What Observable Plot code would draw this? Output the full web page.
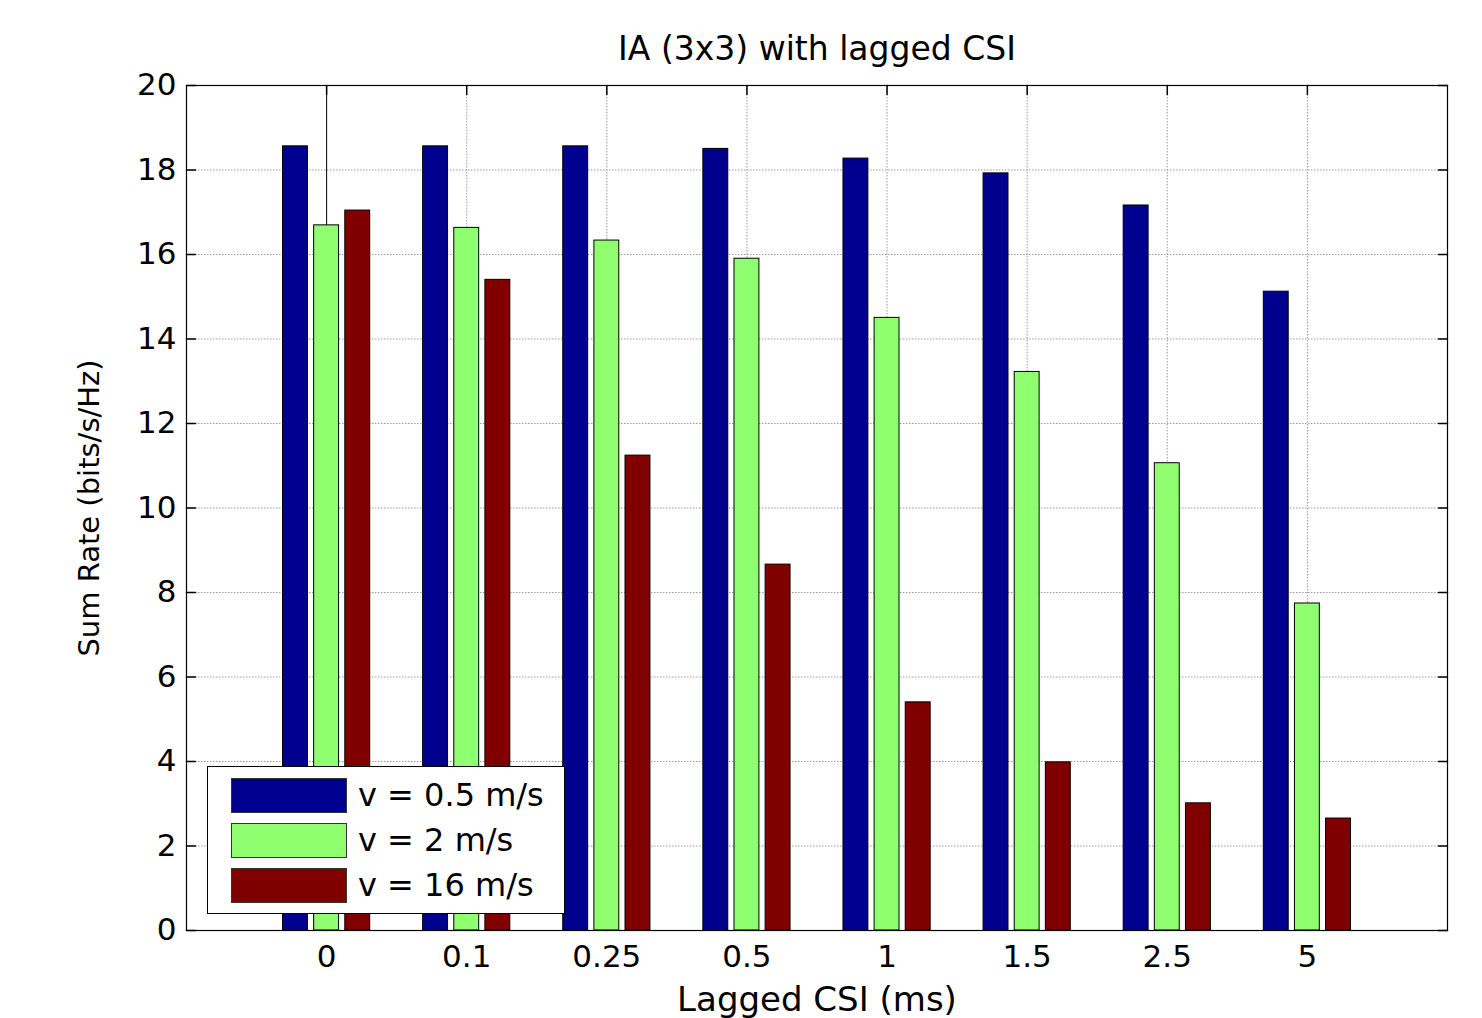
<!DOCTYPE html>
<html>
<head>
<meta charset="utf-8">
<script src="https://cdn.jsdelivr.net/npm/d3@7"></script>
<script src="https://cdn.jsdelivr.net/npm/@observablehq/plot@0.6"></script>
<style>
  html, body { margin: 0; padding: 0; background: white; }
  #wrap { position: relative; width: 1482px; height: 1018px; font-family: "DejaVu Sans", sans-serif; }
  #legend { position: absolute; left: 207px; top: 766px; width: 356px; height: 146px; border: 1px solid black; background: white; box-sizing: content-box; }
  .row { position: absolute; left: 23px; display: flex; align-items: center; }
  .sw { width: 114px; height: 33px; border: 1px solid #333; }
  .lab { margin-left: 11px; font-size: 32px; white-space: nowrap; }
</style>
</head>
<body>
<div id="wrap"></div>
<script>
const categories = ["0", "0.1", "0.25", "0.5", "1", "1.5", "2.5", "5"];
const seriesNames = ["v = 0.5 m/s", "v = 2 m/s", "v = 16 m/s"];
const v05 = [18.56, 18.56, 18.56, 18.5, 18.27, 17.92, 17.16, 15.12];
const v2  = [16.69, 16.63, 16.33, 15.9, 14.5, 13.22, 11.06, 7.74];
const v16 = [17.04, 15.4, 11.24, 8.66, 5.4, 3.98, 3.01, 2.65];
const seriesColors = ["#00008F", "#8FFF70", "#800000"];
const yTicks = [0, 2, 4, 6, 8, 10, 12, 14, 16, 18, 20];
const title = "IA (3x3) with lagged CSI";
const xLabel = "Lagged CSI (ms)";
const yLabel = "Sum Rate (bits/s/Hz)";

// MATLAB grouped bar geometry
const nSeries = 3;
const groupWidth = Math.min(0.8, nSeries / (nSeries + 1.5));
const barW = groupWidth / nSeries * 0.8;
const offsets = [-groupWidth / nSeries, 0, groupWidth / nSeries];

const catIdx = categories.map((c, i) => i + 1);
const allSeries = [v05, v2, v16];
const rows = [];
allSeries.forEach((vals, j) => vals.forEach((v, i) => {
  rows.push({pos: i + 1, j, series: seriesNames[j], value: v});
}));

const tickShape = { draw(context, l) { context.moveTo(0, 0); context.lineTo(0, -l); } };
const gridStyle = {stroke: "#9a9a9a", strokeOpacity: 1, strokeDasharray: "1.5,1.5", strokeWidth: 1};

const chart = Plot.plot({
  width: 1482,
  height: 1018,
  marginLeft: 186,
  marginRight: 35,
  marginTop: 85,
  marginBottom: 88,
  style: {fontFamily: "DejaVu Sans, sans-serif", fontSize: "31px", background: "white", color: "black", overflow: "visible"},
  x: {type: "linear", domain: [0, categories.length + 1]},
  y: {domain: [0, 20]},
  color: {domain: seriesNames, range: seriesColors},
  marks: [
    Plot.gridY(yTicks, gridStyle),
    Plot.gridX(catIdx.slice(1), gridStyle),
    Plot.ruleX(catIdx.slice(0, 1), {stroke: "black", strokeWidth: 1}),
    Plot.vector(catIdx, {x: d => d, frameAnchor: "bottom", rotate: 0, length: 9, anchor: "start", shape: tickShape, stroke: "black", strokeWidth: 1.5}),
    Plot.rectY(rows, {
      x1: d => d.pos + offsets[d.j] - barW / 2,
      x2: d => d.pos + offsets[d.j] + barW / 2,
      y1: 0,
      y2: "value",
      fill: "series",
      stroke: "black",
      strokeWidth: 1
    }),
    Plot.frame({stroke: "black", strokeWidth: 1.2}),
    Plot.vector(yTicks, {y: d => d, frameAnchor: "left", rotate: 90, length: 9, anchor: "start", shape: tickShape, stroke: "black", strokeWidth: 1.5}),
    Plot.vector(yTicks, {y: d => d, frameAnchor: "right", rotate: -90, length: 9, anchor: "start", shape: tickShape, stroke: "black", strokeWidth: 1.5}),
    Plot.vector(catIdx, {x: d => d, frameAnchor: "top", rotate: 180, length: 9, anchor: "start", shape: tickShape, stroke: "black", strokeWidth: 1.5}),
    Plot.axisY({ticks: yTicks, tickSize: 0, tickPadding: 10, label: null}),
    Plot.axisY({ticks: [], tickSize: 0, label: yLabel, labelAnchor: "center", labelOffset: 108, labelArrow: "none", fontSize: 29}),
    Plot.axisX({ticks: catIdx, tickFormat: d => categories[d - 1], tickSize: 0, tickPadding: 14, label: null}),
    Plot.axisX({ticks: [], tickSize: 0, label: xLabel, labelAnchor: "center", labelOffset: 80, labelArrow: "none", fontSize: 34}),
    Plot.text([title], {frameAnchor: "top", dy: -49, fontSize: 33, fill: "black"})
  ]
});

const wrap = document.getElementById("wrap");
wrap.appendChild(chart);

const legend = document.createElement("div");
legend.id = "legend";
seriesNames.forEach((name, j) => {
  const r = document.createElement("div");
  r.className = "row";
  r.style.top = (9 + j * 45) + "px";
  const sw = document.createElement("div");
  sw.className = "sw";
  sw.style.background = seriesColors[j];
  const lab = document.createElement("span");
  lab.className = "lab";
  lab.textContent = name;
  r.appendChild(sw);
  r.appendChild(lab);
  legend.appendChild(r);
});
wrap.appendChild(legend);
</script>
</body>
</html>
